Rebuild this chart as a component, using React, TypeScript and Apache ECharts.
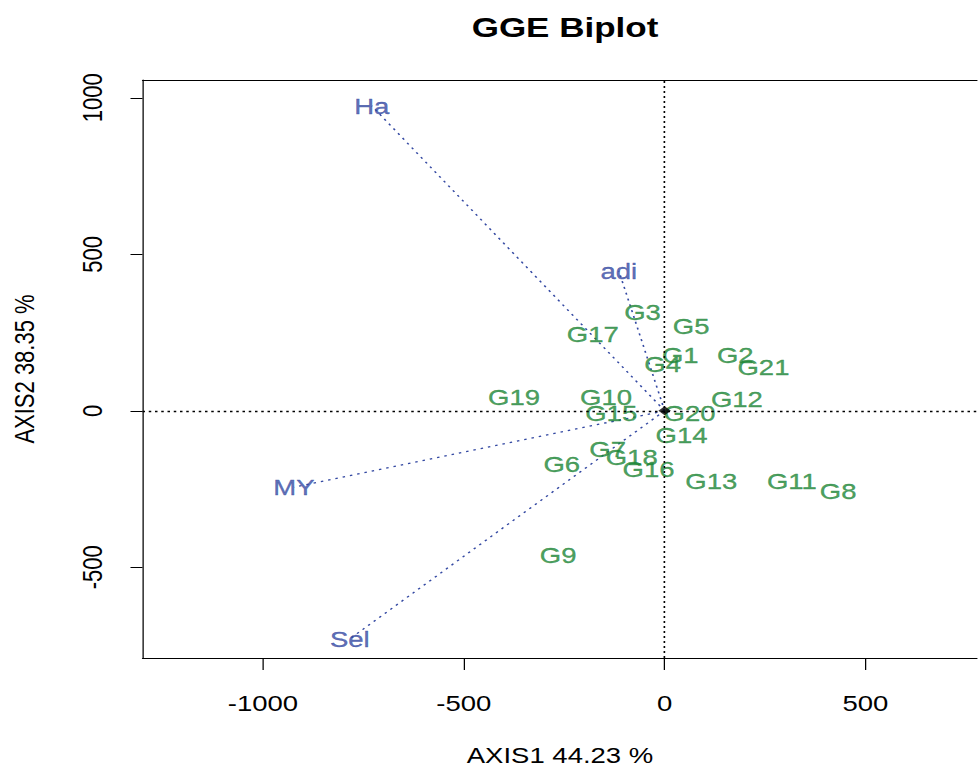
import React, { useEffect, useRef } from "react";
import * as echarts from "echarts";

// ---- data ----
const genotypes = ["G1","G2","G3","G4","G5","G6","G7","G8","G9","G10","G11","G12","G13","G14","G15","G16","G17","G18","G19","G20","G21"];
const genoX = [39, 176, -55, -5, 66, -256, -142, 432, -265, -146, 317, 180, 116, 42, -133, -40, -179, -82, -375, 62, 246];
const genoY = [177, 177, 315, 148, 271, -170, -121, -255, -460, 45, -223, 38, -223, -78, -7, -185, 244, -147, 45, -7, 140];
const envs = ["Ha", "adi", "MY", "Sel"];
const envX = [-729, -114, -923, -784];
const envY = [974, 447, -244, -729];
const xTicks = [-1000, -500, 0, 500];
const yTicks = [-500, 0, 500, 1000];
const titleText = "GGE Biplot";
const xName = "AXIS1 44.23 %";
const yName = "AXIS2 38.35 %";

const FONT = "'Liberation Sans', Arial, Helvetica, sans-serif";
const S = 1.25; // horizontal stretch of the reference picture
const WI = 978 / S; // inner (unstretched) chart width
const X_MIN = -1300;
const X_MAX = 779;
const Y_MIN = -790;
const Y_MAX = 1057;
const GREEN = "#1C8636";
const BLUE = "#3348A2";

export default function App() {
  const ref = useRef<HTMLDivElement>(null);
  useEffect(() => {
    const chart = echarts.init(ref.current as HTMLDivElement, null, { renderer: "svg" });
    const plain = (v: number) => String(v);
    const option: any = {
      animation: false,
      textStyle: { fontFamily: FONT },
      title: {
        text: titleText,
        left: 452,
        top: 13,
        padding: 0,
        textAlign: "center",
        textStyle: { fontSize: 28, fontWeight: "bold", color: "#000", fontFamily: FONT },
      },
      grid: {
        left: 112,
        right: 0,
        top: 80,
        bottom: 111,
        show: false,
        containLabel: false,
      },
      xAxis: [
        {
          type: "value",
          min: X_MIN,
          max: X_MAX,
          splitLine: { show: false },
          axisLine: { show: true, onZero: false, lineStyle: { color: "#000", width: 1 } },
          axisTick: { show: true, length: 12, customValues: xTicks, lineStyle: { color: "#000" } },
          axisLabel: { customValues: xTicks, formatter: plain, fontSize: 22, color: "#000", margin: 34, fontFamily: FONT },
          name: xName,
          nameLocation: "middle",
          nameGap: 86,
          nameTextStyle: { fontSize: 22, color: "#000", fontFamily: FONT },
        },
        {
          type: "value",
          position: "top",
          min: X_MIN,
          max: X_MAX,
          splitLine: { show: false },
          axisLine: { show: true, onZero: false, lineStyle: { color: "#000", width: 1 } },
          axisTick: { show: false },
          axisLabel: { show: false },
        },
      ],
      yAxis: {
        type: "value",
        min: Y_MIN,
        max: Y_MAX,
        splitLine: { show: false },
        axisLine: { show: true, onZero: false, lineStyle: { color: "#000", width: 1 } },
        axisTick: { show: true, length: 9.6, customValues: yTicks, lineStyle: { color: "#000" } },
        axisLabel: { customValues: yTicks, formatter: plain, fontSize: 22, color: "#000", margin: 29, rotate: 90, fontFamily: FONT },
        name: yName,
        nameLocation: "middle",
        nameRotate: 90,
        nameGap: 84,
        nameTextStyle: { fontSize: 22, color: "#000", fontFamily: FONT },
      },
      series: [
        {
          type: "lines",
          coordinateSystem: "cartesian2d",
          silent: true,
          z: 2,
          lineStyle: { color: BLUE, width: 1.3, type: [2, 4], opacity: 1 },
          data: envs.map((e, i) => ({ name: e, coords: [[0, 0], [envX[i], envY[i]]] })),
        },
        {
          type: "scatter",
          name: "genotypes",
          silent: true,
          z: 4,
          symbol: "circle",
          symbolSize: 1,
          itemStyle: { color: "rgba(0,0,0,0)" },
          label: {
            show: true, position: "inside", formatter: "{b}", color: GREEN, fontSize: 22, fontFamily: FONT,
            textBorderColor: GREEN, textBorderWidth: 0.35,
          },
          data: genotypes.map((g, i) => ({ name: g, value: [genoX[i], genoY[i]] })),
          markLine: {
            silent: true,
            symbol: "none",
            label: { show: false },
            lineStyle: { color: "#000", width: 1.3, type: [2, 3] },
            data: [{ xAxis: 0 }, { yAxis: 0 }],
          },
        },
        {
          type: "scatter",
          name: "environments",
          silent: true,
          z: 4,
          symbol: "circle",
          symbolSize: 1,
          itemStyle: { color: "rgba(0,0,0,0)" },
          label: {
            show: true, position: "inside", formatter: "{b}", color: BLUE, fontSize: 22, fontFamily: FONT,
            textBorderColor: BLUE, textBorderWidth: 0.35,
          },
          data: envs.map((e, i) => ({ name: e, value: [envX[i], envY[i]] })),
        },
        {
          type: "scatter",
          name: "origin",
          silent: true,
          z: 5,
          symbol: "diamond",
          symbolSize: [10, 9],
          itemStyle: { color: "#000" },
          data: [[0, 0]],
        },
      ],
    };
    chart.setOption(option);
    return () => chart.dispose();
  }, []);
  return (
    <div style={{ position: "fixed", left: 0, top: 0, width: 978, height: 771, overflow: "hidden", background: "#fff" }}>
      <div
        ref={ref}
        style={{ width: WI, height: 771, transform: `scaleX(${S})`, transformOrigin: "0 0" }}
      />
    </div>
  );
}
